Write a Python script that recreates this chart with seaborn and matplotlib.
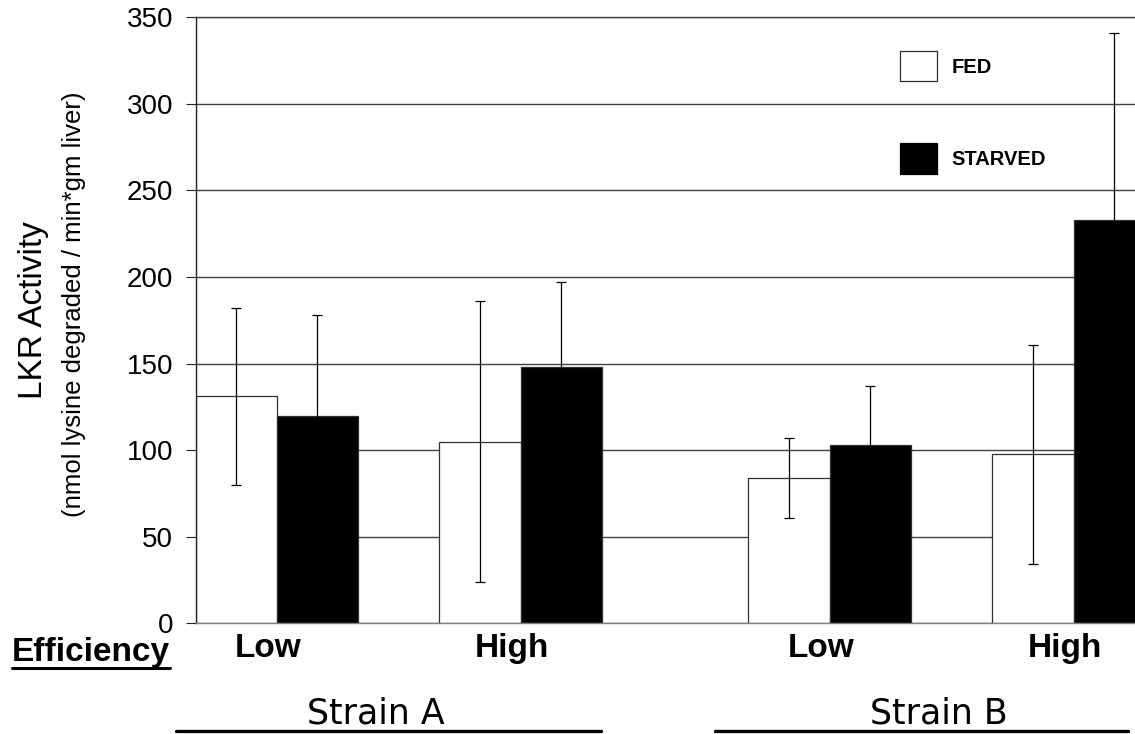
import matplotlib
matplotlib.use("Agg")
import matplotlib.pyplot as plt
from matplotlib.lines import Line2D
from matplotlib.patches import Patch
from matplotlib.container import BarContainer
from matplotlib.transforms import ScaledTranslation
import numpy as np
import pandas as pd
import seaborn as sns

# ---------------- data ----------------
efficiency_labels = ["Low", "High", "Low", "High"]
strain_labels = ["Strain A", "Strain B"]
conditions = ["FED", "STARVED"]
fed_values = [131, 105, 84, 97.5]
fed_errors = [51, 81, 23, 63]
starved_values = [120, 148, 103, 233]
starved_errors = [58, 49, 34, 108]
y_ticks = [0, 50, 100, 150, 200, 250, 300, 350]

# layout (group centres on the numeric x axis)
group_centers = [1.0, 4.0, 7.8, 10.8]

df = pd.DataFrame({
    "pos": group_centers * 2,
    "condition": [conditions[0]] * 4 + [conditions[1]] * 4,
    "value": fed_values + starved_values,
})
err_map = {conditions[0]: fed_errors, conditions[1]: starved_errors}

sns.set_style("white")
plt.rcParams["font.family"] = ["Liberation Sans", "DejaVu Sans"]
plt.rcParams["text.color"] = "black"
plt.rcParams["xtick.labelcolor"] = "black"
plt.rcParams["ytick.labelcolor"] = "black"

W, H = 1135, 734
fig = plt.figure(figsize=(W / 100, H / 100), dpi=100)
ax_left, ax_bottom_px, ax_top_px = 195.5, 623.3, 17.3
ax = fig.add_axes([ax_left / W, 1 - ax_bottom_px / H, (W - ax_left) / W,
                   (ax_bottom_px - ax_top_px) / H])

edge = "#303030"
sns.barplot(data=df, x="pos", y="value", hue="condition", hue_order=conditions,
            native_scale=True, width=2 / 3,
            palette={"FED": "white", "STARVED": "black"},
            errorbar=None, edgecolor=edge, linewidth=0.9, legend=False,
            zorder=2, ax=ax)

# error bars from the bars that seaborn drew
bar_containers = [c for c in ax.containers if isinstance(c, BarContainer)]
for cont in bar_containers:
    bars = sorted(cont.patches, key=lambda p: p.get_x())
    fc = bars[0].get_facecolor()
    cond = conditions[0] if fc[0] > 0.5 else conditions[1]
    xs = [p.get_x() + p.get_width() / 2 for p in bars]
    ys = [p.get_height() for p in bars]
    ax.errorbar(xs, ys, yerr=err_map[cond], fmt="none", ecolor="black",
                elinewidth=0.9, capsize=3.5, capthick=0.9, zorder=3)

ax.set_ylim(0, 350)
ax.set_xlim(0, (W - ax_left) / 81.3)
ax.set_yticks(y_ticks)
ax.yaxis.grid(True, color="#404040", linewidth=1.0)
ax.xaxis.grid(False)
ax.set_axisbelow(True)
ax.set_xlabel("")
ax.set_ylabel("")

ax.spines["right"].set_visible(False)
ax.spines["top"].set_color("#404040")
ax.spines["top"].set_linewidth(1.0)
ax.spines["left"].set_color("#202020")
ax.spines["left"].set_linewidth(1.0)
ax.spines["bottom"].set_color("#808080")
ax.spines["bottom"].set_linewidth(1.0)

ax.tick_params(axis="y", direction="out", length=7, width=0.8, color="#222222",
               labelsize=20, pad=9, left=True, labelcolor="black")
ax.set_xticks(group_centers)
ax.set_xticklabels(efficiency_labels, fontweight="bold", fontsize=24, color="black")
ax.tick_params(axis="x", length=0, pad=7)
for lbl in ax.get_xticklabels():
    lbl.set_transform(lbl.get_transform() + ScaledTranslation(-9 / 100, 0, fig.dpi_scale_trans))

# y axis titles
fig.text(34 / W, 1 - 310 / H, "LKR Activity", rotation=90, ha="center", va="center",
         fontsize=24, color="black")
fig.text(74 / W, 1 - 304 / H, "(nmol lysine degraded / min*gm liver)", rotation=90,
         ha="center", va="center", fontsize=18.5, color="black")

# Efficiency label with underline
fig.text(12 / W, 1 - 661 / H, "Efficiency", ha="left", va="baseline",
         fontweight="bold", fontsize=24, color="black")
fig.add_artist(Line2D([12 / W, 170 / W], [1 - 668 / H, 1 - 668 / H],
                      color="black", linewidth=2.2, transform=fig.transFigure))

# strain labels with lines
strain_text_x = [376, 939]
strain_line_x = [(176, 601), (715, 1128)]
for name, tx, (x0, x1) in zip(strain_labels, strain_text_x, strain_line_x):
    fig.text(tx / W, 1 - 724 / H, name, ha="center", va="baseline",
             family="DejaVu Sans", fontsize=25, color="black")
    fig.add_artist(Line2D([x0 / W, x1 / W], [1 - 731 / H, 1 - 731 / H],
                          color="black", linewidth=2.4, transform=fig.transFigure))

# legend
handles = [Patch(facecolor="white", edgecolor=edge, linewidth=0.9, label=conditions[0]),
           Patch(facecolor="black", edgecolor="black", linewidth=0.9, label=conditions[1])]
ax.legend(handles=handles, loc="upper left", bbox_to_anchor=(900 / W, 1 - 51 / H),
          bbox_transform=fig.transFigure, frameon=False,
          prop=dict(weight="bold", size=14.5), handlelength=1.84, handleheight=1.95,
          labelspacing=3.08, handletextpad=0.71, borderpad=0, borderaxespad=0)

fig.savefig("out.png", dpi=100)
